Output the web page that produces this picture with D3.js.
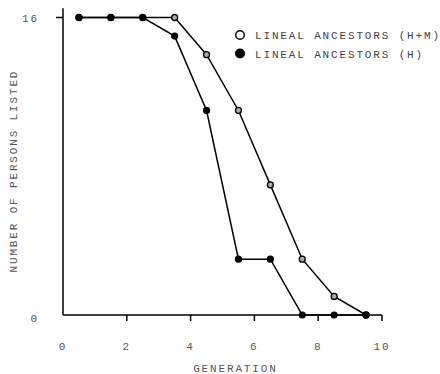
<!DOCTYPE html>
<html>
<head>
<meta charset="utf-8">
<script src="https://cdn.jsdelivr.net/npm/d3@7"></script>
<style>
  html, body { margin: 0; padding: 0; background: #fff; }
  svg text { font-family: "Liberation Mono", "DejaVu Sans Mono", monospace; font-size: 11px; }
</style>
</head>
<body>
<svg id="chart" width="440" height="374"></svg>
<script>
// Generation of each plotted point
const generations = [0.5, 1.5, 2.5, 3.5, 4.5, 5.5, 6.5, 7.5, 8.5, 9.5];
// Lineal ancestors, H+M
const ancestorsHM = [16, 16, 16, 16, 14, 11, 7, 3, 1, 0];
// Lineal ancestors, H
const ancestorsH = [16, 16, 16, 15, 11, 3, 3, 0, 0, 0];
const xTicks = [0, 2, 4, 6, 8, 10];
const yTicks = [0, 16];
const seriesNames = ["LINEAL ANCESTORS (H+M)", "LINEAL ANCESTORS (H)"];

// Wide typewriter-style spacing: each character takes this many pixels
const charStep = 8.45;
const spanOf = s => (s.length - 1) * charStep + 6.6;

const svg = d3.select("#chart");
const x = d3.scaleLinear().domain([0, 10]).range([63, 382]);
const y = d3.scaleLinear().domain([0, 16]).range([315, 17.5]);

// Axes
svg.append("line")
  .attr("x1", x(0)).attr("x2", x(0))
  .attr("y1", y(16.5)).attr("y2", y(0))
  .attr("stroke", "#000").attr("stroke-width", 1.5);
svg.append("line")
  .attr("x1", x(0)).attr("x2", x(10))
  .attr("y1", y(0)).attr("y2", y(0))
  .attr("stroke", "#000").attr("stroke-width", 1.5);

svg.selectAll(".xtick").data(xTicks.filter(d => d > 0)).enter().append("line")
  .attr("x1", d => x(d)).attr("x2", d => x(d))
  .attr("y1", y(0)).attr("y2", y(0) + 6)
  .attr("stroke", "#000").attr("stroke-width", 1.5);
svg.selectAll(".xlab").data(xTicks).enter().append("text")
  .attr("x", d => x(d) - 1).attr("y", 350)
  .attr("text-anchor", "middle").attr("fill", "#555")
  .each(function(d) {
    const s = String(d);
    const t = d3.select(this).text(s);
    if (s.length > 1) t.attr("textLength", spanOf(s)).attr("lengthAdjust", "spacing");
  });

svg.append("line")
  .attr("x1", x(0) - 7).attr("x2", x(0))
  .attr("y1", y(16)).attr("y2", y(16))
  .attr("stroke", "#000").attr("stroke-width", 1.5);
svg.selectAll(".ylab").data(yTicks).enter().append("text")
  .attr("x", 37).attr("y", d => y(d) + (d === 0 ? 7 : 4))
  .attr("text-anchor", "end").attr("fill", "#555")
  .each(function(d) {
    const s = String(d);
    const t = d3.select(this).text(s);
    if (s.length > 1) t.attr("textLength", spanOf(s)).attr("lengthAdjust", "spacing");
  });

// Axis titles
svg.append("text")
  .attr("x", 234.5).attr("y", 372)
  .attr("text-anchor", "middle").attr("fill", "#555")
  .attr("textLength", spanOf("GENERATION")).attr("lengthAdjust", "spacing")
  .text("GENERATION");
svg.append("text")
  .attr("transform", "translate(17,172) rotate(-90)")
  .attr("text-anchor", "middle").attr("fill", "#555")
  .attr("textLength", spanOf("NUMBER OF PERSONS LISTED")).attr("lengthAdjust", "spacing")
  .text("NUMBER OF PERSONS LISTED");

// Lines
const line = d3.line().x(d => x(d[0])).y(d => y(d[1]));
const hm = generations.map((g, i) => [g, ancestorsHM[i]]);
const h = generations.map((g, i) => [g, ancestorsH[i]]);

svg.append("path").datum(hm).attr("d", line)
  .attr("fill", "none").attr("stroke", "#000").attr("stroke-width", 1.5);
svg.append("path").datum(h).attr("d", line)
  .attr("fill", "none").attr("stroke", "#000").attr("stroke-width", 1.5);

svg.selectAll(".hm").data(hm).enter().append("circle")
  .attr("cx", d => x(d[0])).attr("cy", d => y(d[1])).attr("r", 3)
  .attr("fill", "#aaa").attr("stroke", "#000").attr("stroke-width", 1.3);
svg.selectAll(".h").data(h).enter().append("circle")
  .attr("cx", d => x(d[0])).attr("cy", d => y(d[1])).attr("r", 3.6)
  .attr("fill", "#000");

// Legend
const legend = svg.append("g");
legend.append("circle").attr("cx", 240).attr("cy", 35).attr("r", 4.3)
  .attr("fill", "#fff").attr("stroke", "#000").attr("stroke-width", 1.5);
legend.append("circle").attr("cx", 240).attr("cy", 53.5).attr("r", 5)
  .attr("fill", "#000");
legend.selectAll(".ltext").data(seriesNames).enter().append("text")
  .attr("x", 255).attr("y", (d, i) => 39 + i * 19)
  .attr("fill", "#444")
  .attr("textLength", d => spanOf(d)).attr("lengthAdjust", "spacing")
  .text(d => d);
</script>
</body>
</html>
